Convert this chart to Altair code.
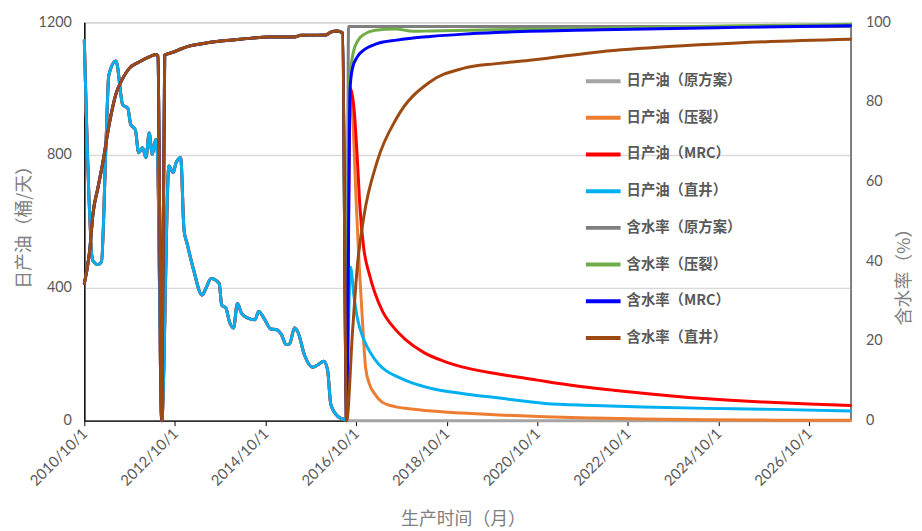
import altair as alt
import pandas as pd

# ---------------- data (x = months after 2010/10/1) ----------------
hist_oil_m = [0, 2.2, 3.6, 4.5, 5.8, 6.5, 8.4, 10.2, 11.5, 12.3, 13.5, 14.4, 15.4, 16.3, 17.2, 18.0,
              18.9, 19.4, 20.5, 22.4, 23.5, 24.3, 25.5, 26.4, 27.2, 29.0, 31.2, 32.2, 33.6, 35.7,
              36.4, 37.5, 38.4, 39.5, 40.5, 41.7, 43.4, 45.2, 46.2, 47.8, 49.4, 50.9, 52.2, 53.5,
              54.4, 55.7, 56.7, 58.3, 60.5, 62.0, 63.4, 64.4, 65.3, 66.6, 68.0, 69.3]
hist_oil = [1145, 483, 470, 478, 841, 1040, 1083, 951, 941, 892, 876, 807, 822, 792, 866, 802,
            847, 800, 0, 767, 747, 777, 792, 573, 533, 453, 378, 398, 428, 413,
            348, 339, 299, 279, 353, 323, 309, 304, 329, 304, 276, 274, 259, 229,
            231, 279, 264, 199, 161, 169, 179, 154, 50, 20, 7, 3]

hist_wc_m = [0, 1.4, 2.3, 3.6, 4.9, 6.6, 8.4, 10.2, 11.9, 14.5, 17.2, 19.0, 19.5, 20.5, 21.3,
             23.3, 25.9, 27.7, 31.2, 35.6, 39.9, 44.3, 48.7, 55.7, 57.4, 64.0, 65.3, 67.0, 68.4, 69.5]
hist_wc = [34.4, 42.7, 52, 58.5, 65, 74.3, 82, 85.9, 88.4, 90, 91.3, 91.9, 91.5, 0, 91.7,
           92.4, 93.4, 94, 94.6, 95.2, 95.6, 96, 96.3, 96.3, 96.7, 96.8, 97.5, 97.8, 97.3, 0]

oil_base_m = [69.6, 203]
oil_base = [0, 0]
oil_frac_m = [70.5, 71.3, 72, 72.8, 73.6, 74.5, 75.5, 77, 79, 82, 86, 92, 100, 110, 122, 135,
              148, 165, 183, 203]
oil_frac = [1005, 860, 660, 470, 310, 160, 110, 80, 55, 43, 36, 29, 23, 17, 12, 8, 5, 3, 1.5, 1]
oil_mrc_m = [70.5, 71.5, 72.3, 73, 74, 75.5, 77, 79, 82, 85, 90, 95, 100, 110, 120, 130, 140,
             150, 160, 170, 180, 192, 203]
oil_mrc = [1000, 930, 790, 640, 520, 440, 385, 330, 280, 245, 205, 180, 162, 140, 122, 105, 92,
           80, 70, 62, 56, 50, 46]
oil_vert_m = [70.5, 71.4, 72.3, 74, 76, 78, 80, 83, 87, 92, 100, 110, 122, 135, 148, 165, 183, 203]
oil_vert = [463, 375, 310, 245, 200, 170, 150, 132, 113, 97, 82, 68, 52, 46, 41, 37, 34, 29]

wc_base_m = [70.0, 203]
wc_base = [98.9, 98.9]
wc_frac_m = [70.0, 71.2, 72.6, 74.2, 77.1, 82.5, 87, 91.6, 109.6, 136.7, 173, 203]
wc_frac = [82, 92.3, 95.6, 97, 98, 98.3, 97.7, 97.8, 98.1, 98.5, 99.1, 99.4]
wc_mrc_m = [70.4, 71, 72.3, 74, 77.6, 82.8, 91.6, 100.5, 109, 137, 173, 203]
wc_mrc = [83.4, 88.4, 91.3, 93, 94.6, 95.5, 96.4, 97, 97.4, 98.1, 98.7, 99.1]
wc_vert_m = [71, 72.3, 74, 77.6, 82.8, 91.6, 100.3, 109.1, 118.7, 136.8, 154.8, 172.9, 203]
wc_vert = [22, 38.6, 51, 65, 76, 85, 88.4, 89.6, 90.5, 92.6, 93.9, 94.8, 95.7]

oil_names = ["日产油（原方案）", "日产油（压裂）", "日产油（MRC）", "日产油（直井）"]
wc_names = ["含水率（原方案）", "含水率（压裂）", "含水率（MRC）", "含水率（直井）"]
colors = ["#A5A5A5", "#ED7D31", "#FF0000", "#00B0F0", "#7F7F7F", "#70AD47", "#0000FF", "#9C4A12"]
x_tick_years = [2010, 2012, 2014, 2016, 2018, 2020, 2022, 2024, 2026]


def to_date(m):
    whole = int(m)
    frac = m - whole
    d = pd.Timestamp("2010-10-01") + pd.DateOffset(months=whole) + pd.Timedelta(days=frac * 30.4)
    return d.strftime("%Y-%m-%dT%H:%M:%S")


rows = []
oil_fc = [(oil_base_m, oil_base), (oil_frac_m, oil_frac), (oil_mrc_m, oil_mrc), (oil_vert_m, oil_vert)]
wc_fc = [(wc_base_m, wc_base), (wc_frac_m, wc_frac), (wc_mrc_m, wc_mrc), (wc_vert_m, wc_vert)]
for name, (fm, fv) in zip(oil_names, oil_fc):
    for i, (m, v) in enumerate(zip(hist_oil_m + fm, hist_oil + fv)):
        rows.append({"series": name, "date": to_date(m), "value": v, "idx": i})
for name, (fm, fv) in zip(wc_names, wc_fc):
    for i, (m, v) in enumerate(zip(hist_wc_m + fm, hist_wc + fv)):
        rows.append({"series": name, "date": to_date(m), "value": v, "idx": i})
df = pd.DataFrame(rows)

NUM_FONT = "Lato"
CJK_FONT = "Noto Sans CJK SC"

color_scale = alt.Scale(domain=oil_names + wc_names, range=colors)
legend = alt.Legend(
    orient="none", legendX=504, legendY=40, title=None,
    symbolType="stroke", symbolStrokeWidth=4, symbolSize=1225,
    labelFont=CJK_FONT, labelFontSize=14.5, labelFontWeight="bold", labelColor="#595959",
    rowPadding=9, labelOffset=4, symbolOpacity=1,
)

x_enc = alt.X(
    "date:T",
    scale=alt.Scale(domain=[alt.DateTime(year=2010, month=10, date=1),
                            alt.DateTime(year=2027, month=9, date=1)], nice=False),
    axis=alt.Axis(
        values=[alt.DateTime(year=y, month=10, date=1) for y in x_tick_years],
        format="%Y/%-m/%-d", labelAngle=315, labelAlign="right", labelBaseline="middle",
        labelFont=NUM_FONT, labelFontSize=15, labelColor="#595959", labelPadding=5,
        ticks=True, tickSize=5, tickColor="#000000", domainColor="#000000", domainWidth=1.3,
        grid=False, title="生产时间（月）", titleFont=CJK_FONT, titleFontSize=18,
        titleFontWeight="normal", titleColor="#808080", titleX=382, titleY=100,
        titleBaseline="middle", titleAlign="center",
    ),
)

y_left = alt.Y(
    "value:Q", scale=alt.Scale(domain=[0, 1200], nice=False),
    axis=alt.Axis(
        values=[0, 400, 800, 1200], format="d", grid=True, gridColor="#D9D9D9", gridWidth=1.3,
        ticks=False, domainColor="#000000", domainWidth=1.3,
        labelFont=NUM_FONT, labelFontSize=14.5, labelColor="#595959", labelPadding=13,
        title="日产油（桶/天）", titleFont=CJK_FONT, titleFontSize=18, titleFontWeight="normal",
        titleColor="#808080", titleAngle=270, titleX=-60, titleY=202,
        titleBaseline="middle", titleAlign="center",
    ),
)
y_right = alt.Y(
    "value:Q", scale=alt.Scale(domain=[0, 100], nice=False),
    axis=alt.Axis(
        orient="right", values=[0, 20, 40, 60, 80, 100], format="d", grid=False, ticks=False,
        domainColor="#7F7F7F", domainWidth=2,
        labelFont=NUM_FONT, labelFontSize=14.5, labelColor="#595959", labelPadding=15,
        title="含水率（%）", titleFont=CJK_FONT, titleFontSize=18, titleFontWeight="normal",
        titleColor="#808080", titleAngle=270, titleX=54, titleY=252,
        titleBaseline="middle", titleAlign="center",
    ),
)


def series_layer(name, y_enc):
    return (
        alt.Chart(df)
        .transform_filter(alt.datum.series == name)
        .mark_line(strokeWidth=3, strokeJoin="round", strokeCap="round", interpolate="monotone")
        .encode(
            x=x_enc, y=y_enc,
            color=alt.Color("series:N", scale=color_scale, legend=legend),
            order="idx:Q",
        )
    )


oil_layer = alt.layer(*[series_layer(n, y_left) for n in oil_names])
wc_layer = alt.layer(*[series_layer(n, y_right) for n in wc_names])

chart = (
    alt.layer(oil_layer, wc_layer)
    .resolve_scale(y="independent")
    .properties(
        width=773, height=402, autosize=alt.AutoSizeParams(type="none"),
        padding={"left": 77, "top": 12, "right": 64, "bottom": 109},
        background="white",
    )
    .configure_view(stroke="#404040", strokeWidth=1)
)

chart.save("out.html", embed_options={"renderer": "svg", "actions": False})
